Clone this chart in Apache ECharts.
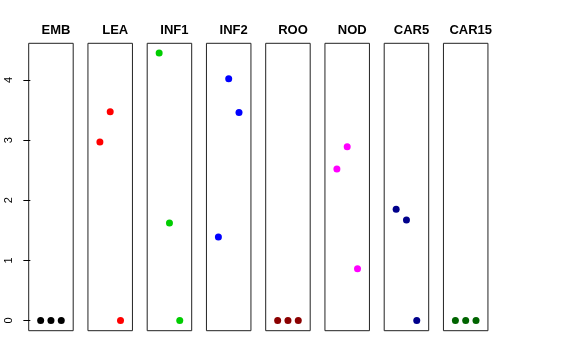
<!DOCTYPE html>
<html>
<head>
<meta charset="utf-8">
<script src="https://cdn.jsdelivr.net/npm/echarts@6/dist/echarts.min.js"></script>
<style>html,body{margin:0;padding:0;background:#fff}#c{width:576px;height:360px}</style>
</head>
<body>
<div id="c"></div>
<script>
var categories = ["EMB", "LEA", "INF1", "INF2", "ROO", "NOD", "CAR5", "CAR15"];
var xPositions = [1, 2, 3];
var EMB = [0, 0, 0];
var LEA = [2.97, 3.47, 0];
var INF1 = [4.45, 1.62, 0];
var INF2 = [1.39, 4.02, 3.46];
var ROO = [0, 0, 0];
var NOD = [2.52, 2.89, 0.86];
var CAR5 = [1.85, 1.67, 0];
var CAR15 = [0, 0, 0];
var seriesValues = [EMB, LEA, INF1, INF2, ROO, NOD, CAR5, CAR15];
var colors = ["#000000", "#FF0000", "#00CD00", "#0000FF", "#8B0000", "#FF00FF", "#00008B", "#006400"];
var yTicks = [0, 1, 2, 3, 4];

(function () {
  var left0 = 28.7, step = 59.25, pw = 44.5, ptop = 43.3, ph = 287.4;
  var grids = [], xAxes = [], yAxes = [], series = [], titles = [];
  categories.forEach(function (name, i) {
    grids.push({left: left0 + i * step, top: ptop, width: pw, height: ph, show: true,
      borderColor: '#222', borderWidth: 1, backgroundColor: 'transparent'});
    xAxes.push({type: 'value', gridIndex: i, min: -0.16, max: 4.16, show: false});
    yAxes.push({type: 'value', gridIndex: i, min: -0.17, max: 4.61,
      show: i === 0,
      splitLine: {show: false},
      axisLine: {show: false},
      axisTick: {show: true, length: 7, lineStyle: {color: '#000'}, customValues: yTicks},
      axisLabel: {show: true, rotate: 90, margin: 14, color: '#000', fontSize: 11,
        fontFamily: 'Liberation Sans, Arial, sans-serif', customValues: yTicks}
    });
    titles.push({text: name, left: left0 + i * step + pw / 2, top: 19, textAlign: 'center',
      textStyle: {fontSize: 13, fontWeight: 'bold', color: '#000', fontFamily: 'Liberation Sans, Arial, sans-serif'}});
    series.push({type: 'scatter', xAxisIndex: i, yAxisIndex: i, symbolSize: 7,
      itemStyle: {color: colors[i], opacity: 1},
      emphasis: {disabled: true},
      data: xPositions.map(function (x, j) { return [x, seriesValues[i][j]]; })});
  });

  var chart = echarts.init(document.getElementById('c'), null, {renderer: 'canvas'});
  chart.setOption({
    animation: false,
    title: titles,
    grid: grids,
    xAxis: xAxes,
    yAxis: yAxes,
    series: series
  });
})();
</script>
</body>
</html>
